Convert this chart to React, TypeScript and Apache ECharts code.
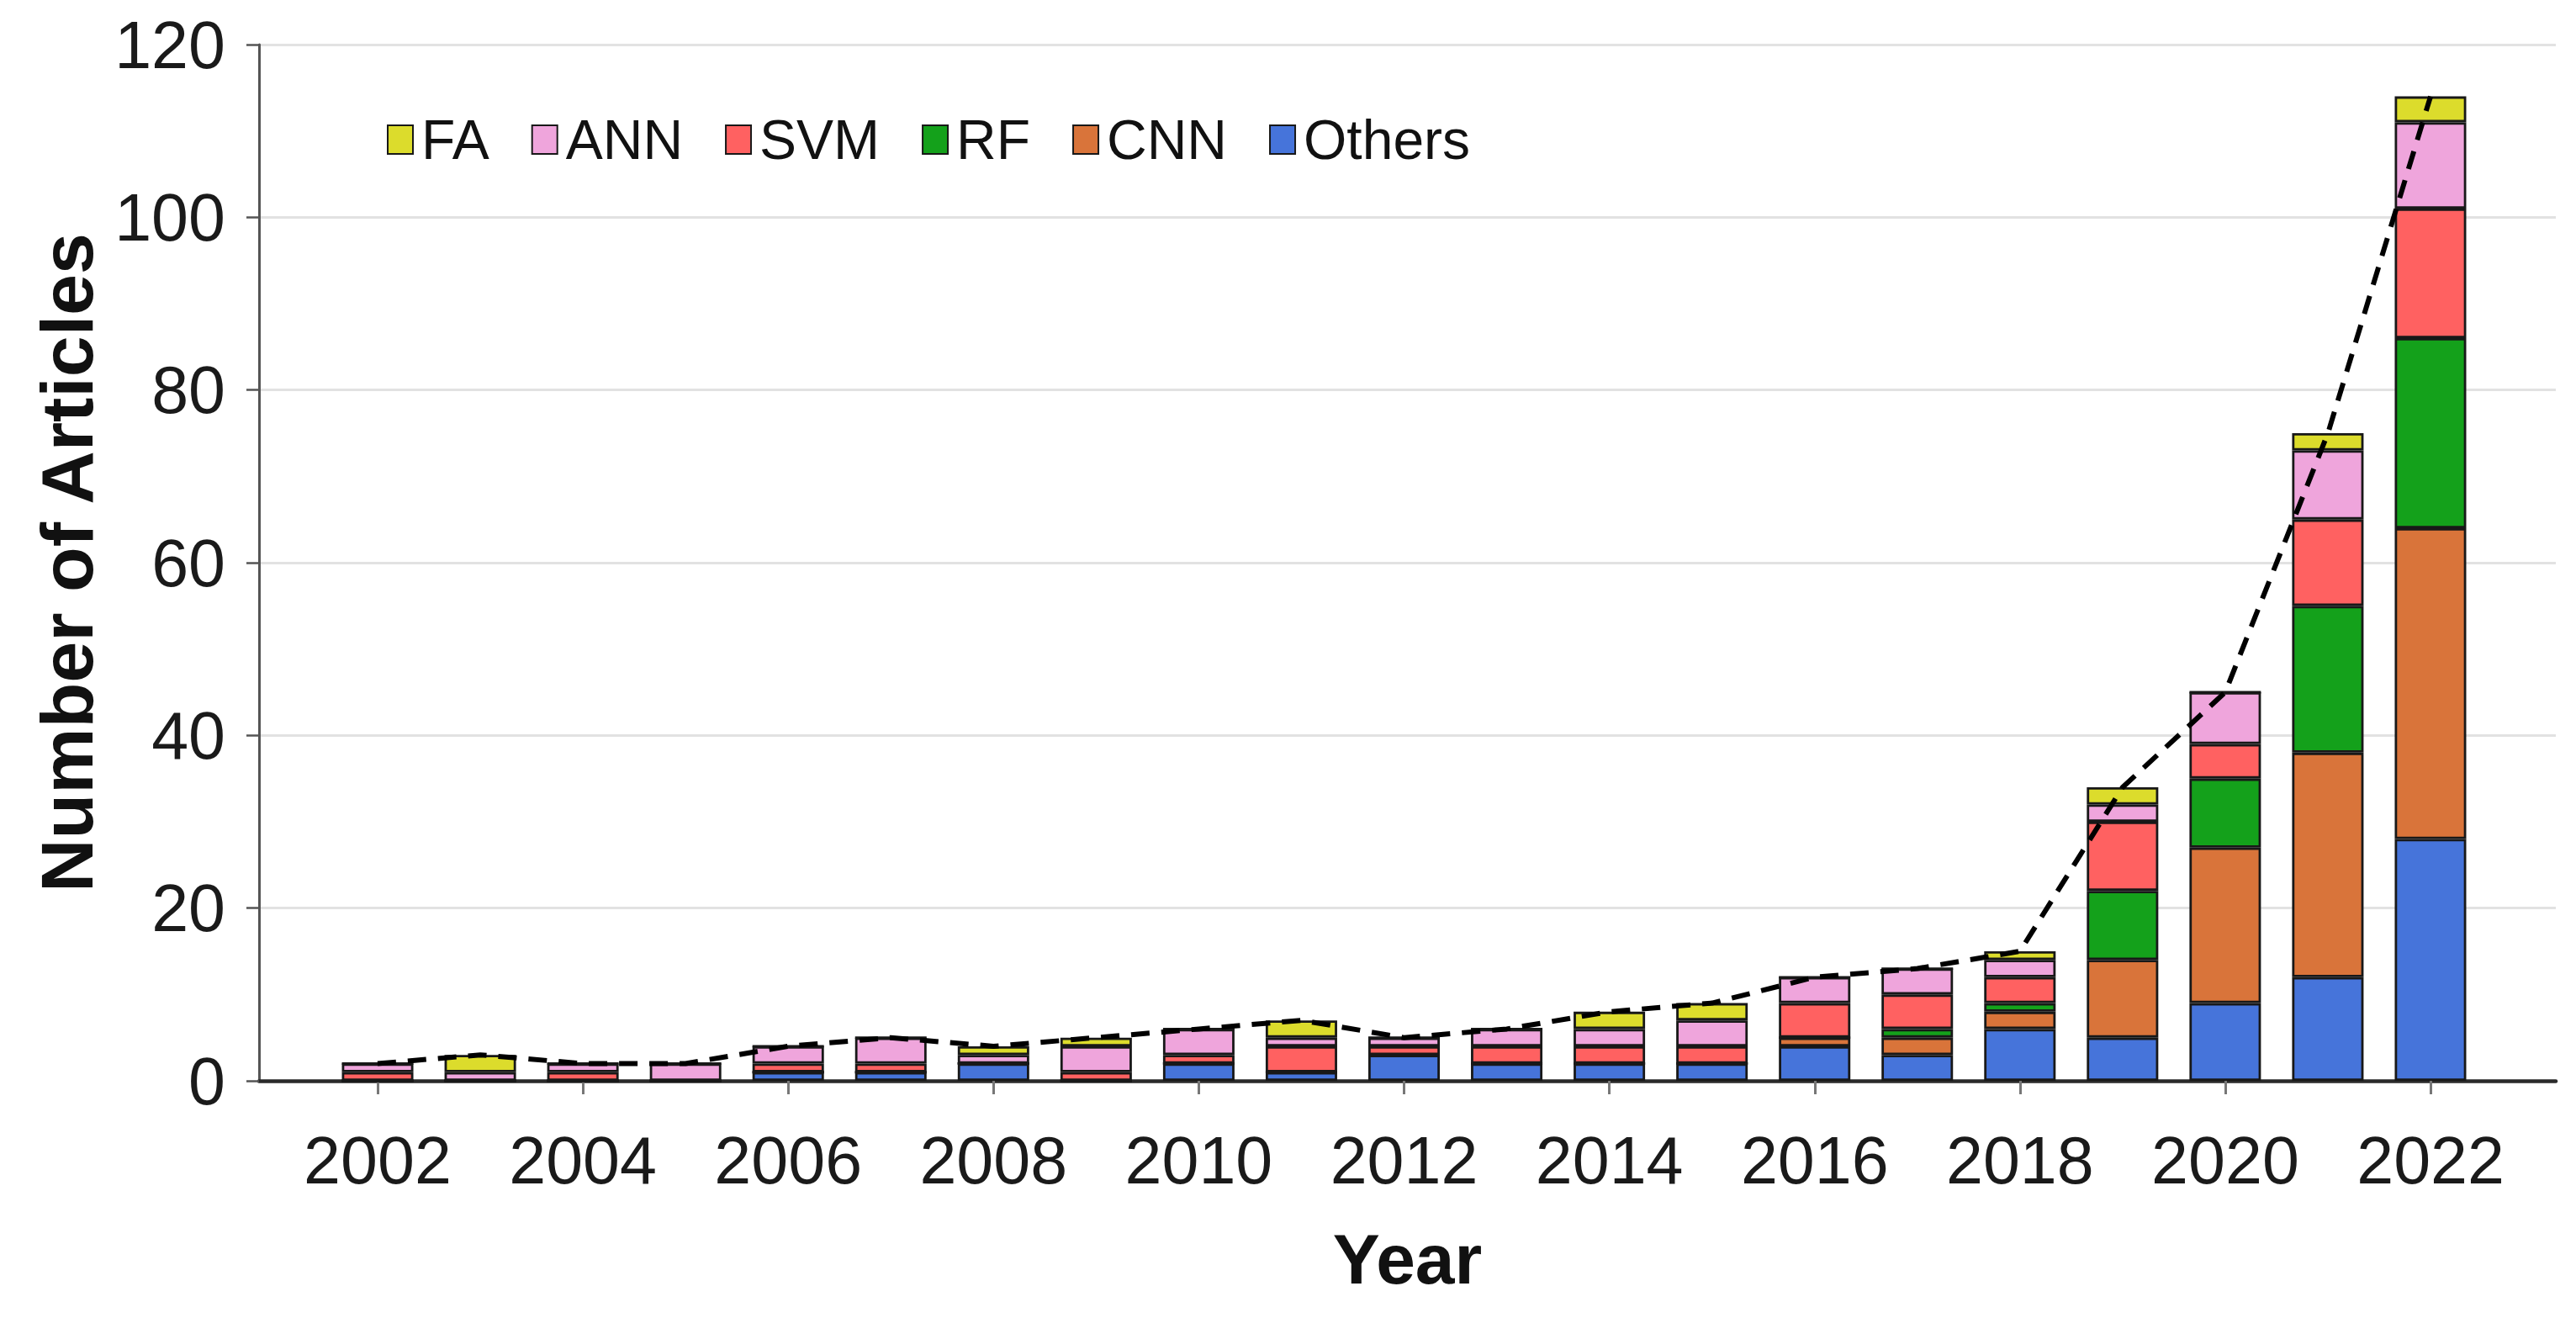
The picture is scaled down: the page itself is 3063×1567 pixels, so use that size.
import React, { useEffect, useRef } from "react";
import * as echarts from "echarts";

const years = [2002, 2003, 2004, 2005, 2006, 2007, 2008, 2009, 2010, 2011, 2012, 2013, 2014, 2015, 2016, 2017, 2018, 2019, 2020, 2021, 2022];
const othersVals = [0, 0, 0, 0, 1, 1, 2, 0, 2, 1, 3, 2, 2, 2, 4, 3, 6, 5, 9, 12, 28];
const cnnVals = [0, 0, 0, 0, 0, 0, 0, 0, 0, 0, 0, 0, 0, 0, 1, 2, 2, 9, 18, 26, 36];
const rfVals = [0, 0, 0, 0, 0, 0, 0, 0, 0, 0, 0, 0, 0, 0, 0, 1, 1, 8, 8, 17, 22];
const svmVals = [1, 0, 1, 0, 1, 1, 0, 1, 1, 3, 1, 2, 2, 2, 4, 4, 3, 8, 4, 10, 15];
const annVals = [1, 1, 1, 2, 2, 3, 1, 3, 3, 1, 1, 2, 2, 3, 3, 3, 2, 2, 6, 8, 10];
const faVals = [0, 2, 0, 0, 0, 0, 1, 1, 0, 2, 0, 0, 2, 2, 0, 0, 1, 2, 0, 2, 3];

const xTickYears = [2002, 2004, 2006, 2008, 2010, 2012, 2014, 2016, 2018, 2020, 2022];
const legendOrder = ["FA", "ANN", "SVM", "RF", "CNN", "Others"];

const FONT = "'Liberation Sans', Arial, Helvetica, sans-serif";

export default function App() {
  const ref = useRef<HTMLDivElement>(null);

  useEffect(() => {
    if (!ref.current) return;
    const chart = echarts.init(ref.current, null, { renderer: "svg" });

    const stackDefs = [
      { name: "Others", vals: othersVals, color: "#4674DA" },
      { name: "CNN", vals: cnnVals, color: "#D9743A" },
      { name: "RF", vals: rfVals, color: "#14A11B" },
      { name: "SVM", vals: svmVals, color: "#FF6161" },
      { name: "ANN", vals: annVals, color: "#EFA5DC" },
      { name: "FA", vals: faVals, color: "#DCDC2C" },
    ];

    const totals = years.map((_, i) =>
      stackDefs.reduce((s, d) => s + d.vals[i], 0)
    );

    const barSeries = stackDefs.map((d) => ({
      name: d.name,
      type: "bar",
      stack: "total",
      xAxisIndex: 0,
      yAxisIndex: 0,
      barWidth: 85,
      data: d.vals,
      itemStyle: {
        color: d.color,
        borderColor: "#181818",
        borderWidth: 2.8,
      },
      emphasis: { disabled: true },
      z: 2,
    }));

    const option = {
      animation: false,
      backgroundColor: "#ffffff",
      textStyle: { fontFamily: FONT },
      grid: [
        {
          left: 388,
          right: 112,
          top: 53,
          bottom: 282,
          containLabel: false,
          outerBoundsMode: "none",
        },
        {
          left: 308,
          right: 24,
          top: 53,
          bottom: 282,
          containLabel: false,
          outerBoundsMode: "none",
        },
      ],
      legend: {
        data: legendOrder,
        left: 455,
        top: 128,
        orient: "horizontal",
        itemWidth: 30,
        itemHeight: 34,
        itemGap: 50,
        icon: "rect",
        selectedMode: false,
        textStyle: {
          fontFamily: FONT,
          fontSize: 66,
          color: "#111",
          padding: [0, 0, 0, 5],
        },
      },
      xAxis: [
        {
          type: "category",
          gridIndex: 0,
          data: years.map(String),
          boundaryGap: true,
          show: false,
        },
        {
          type: "value",
          gridIndex: 1,
          min: 2000.845,
          max: 2023.22,
          name: "Year",
          nameLocation: "middle",
          nameGap: 170,
          nameTextStyle: {
            fontFamily: FONT,
            fontSize: 84,
            fontWeight: "bold",
            color: "#111",
          },
          axisLine: {
            show: true,
            onZero: false,
            lineStyle: { color: "#2a2a2a", width: 4.5 },
          },
          axisTick: {
            show: true,
            customValues: xTickYears,
            length: 16,
            lineStyle: { color: "#777", width: 3 },
          },
          axisLabel: {
            customValues: xTickYears,
            fontFamily: FONT,
            fontSize: 79,
            color: "#1a1a1a",
            margin: 55,
            formatter: (v: number) => String(Math.round(v)),
          },
          splitLine: { show: false },
        },
      ],
      yAxis: [
        {
          type: "value",
          gridIndex: 0,
          min: 0,
          max: 120,
          show: false,
          splitLine: { show: false },
        },
        {
          type: "value",
          gridIndex: 1,
          min: 0,
          max: 120,
          interval: 20,
          name: "Number of Articles",
          nameLocation: "middle",
          nameGap: 185,
          nameRotate: 90,
          nameTextStyle: {
            fontFamily: FONT,
            fontSize: 88,
            fontWeight: "bold",
            color: "#111",
          },
          axisLine: {
            show: true,
            lineStyle: { color: "#555", width: 3 },
          },
          axisTick: {
            show: true,
            inside: false,
            length: 15,
            lineStyle: { color: "#555", width: 2.5 },
          },
          axisLabel: {
            fontFamily: FONT,
            fontSize: 79,
            color: "#1a1a1a",
            margin: 40,
          },
          splitLine: {
            show: true,
            lineStyle: { color: "#e2e2e2", width: 3 },
          },
        },
      ],
      series: [
        ...barSeries,
        {
          name: "Total",
          type: "line",
          xAxisIndex: 1,
          yAxisIndex: 1,
          data: years.map((y, i) => [y, totals[i]]),
          symbol: "none",
          lineStyle: { color: "#000", width: 6, type: [22, 14] },
          emphasis: { disabled: true },
          z: 5,
        },
      ],
    };

    chart.setOption(option as any);
    return () => chart.dispose();
  }, []);

  return (
    <div
      ref={ref}
      style={{
        position: "absolute",
        left: 0,
        top: 0,
        width: 3063,
        height: 1567,
        background: "#fff",
      }}
    />
  );
}
